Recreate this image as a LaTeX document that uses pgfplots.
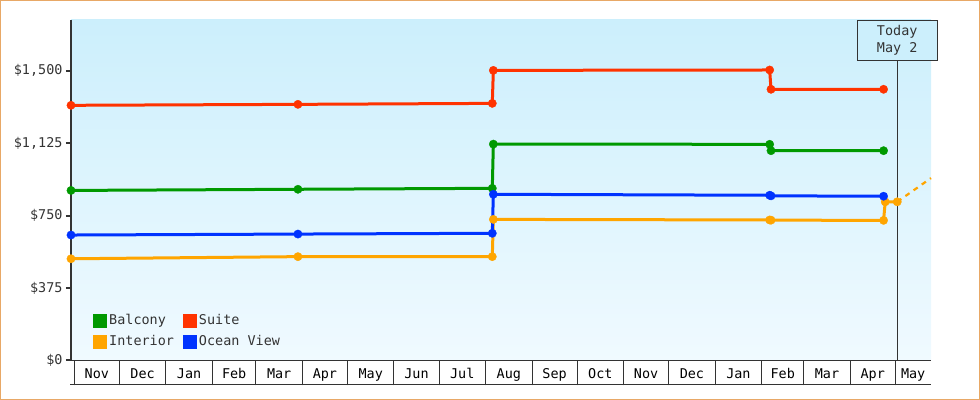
\documentclass[border=0pt]{standalone}
\usepackage{pgfplots}
\pgfplotsset{compat=1.18}
\usepackage{fontspec}
\setmainfont{DejaVu Sans Mono}

\definecolor{suite}{HTML}{FF3300}
\definecolor{balcony}{HTML}{009900}
\definecolor{ocean}{HTML}{0033FF}
\definecolor{interior}{HTML}{FFA500}
\definecolor{axisgray}{HTML}{333333}
\definecolor{bgtop}{HTML}{CCEFFC}
\definecolor{bgbot}{HTML}{F0FAFF}
\definecolor{framecol}{HTML}{E8A866}

% x = days since Nov 1 (first year), y = price in dollars
\begin{document}
\begin{tikzpicture}
\path[use as bounding box] (0,0) rectangle (980bp,400bp);
\draw[framecol, line width=1bp] (0.5bp,0.5bp) rectangle (979.5bp,399.5bp);
\begin{axis}[
  at={(71bp,39.7bp)}, anchor=south west,
  scale only axis, width=860bp, height=340.3bp,
  xmin=-2.2, xmax=570.8, ymin=0, ymax=1763,
  clip=false,
  axis x line*=bottom, axis y line*=left,
  x axis line style={axisgray, line width=1.5bp},
  y axis line style={axisgray, line width=2bp},
  axis background/.style={top color=bgtop, bottom color=bgbot},
  font=\fontsize{13.5}{15}\selectfont,
  tick align=outside,
  major tick length=5bp,
  minor tick length=25bp,
  ytick={0,375,750,1125,1500},
  yticklabels={\$0,\$375,\$750,{\$1,125},{\$1,500}},
  ytick style={axisgray, line width=2bp},
  yticklabel style={text=axisgray},
  xtick={15,45.5,76.5,106.5,136.5,167,197.5,228,258.5,289.5,320,350.5,381,411.5,442.5,472,501.5,532,558.9},
  xticklabels={Nov,Dec,Jan,Feb,Mar,Apr,May,Jun,Jul,Aug,Sep,Oct,Nov,Dec,Jan,Feb,Mar,Apr,May},
  minor xtick={0,30,61,92,121,152,182,213,243,274,305,335,366,396,427,458,486,517,547},
  xtick style={axisgray, line width=1bp},
  every major x tick/.append style={draw=none},
  xticklabel style={anchor=base, yshift=-13bp, text=black},
  legend columns=2,
  legend cell align=left,
  legend image code/.code={\fill[#1] (0bp,-5.5bp) rectangle (11bp,5.5bp);},
  legend style={at={(0.0256,0.137)}, anchor=north west, draw=none, fill=none,
    inner sep=0pt, text=axisgray, row sep=7bp,
    nodes={inner xsep=2bp, inner ysep=0bp, text height=10bp, text depth=3bp},
    /tikz/every even column/.append style={column sep=7bp}},
  every axis plot/.append style={line width=3bp, mark=*, mark size=4.2bp, mark options={line width=0.3bp}},
]
\addplot[balcony]
  coordinates {(-2.2,880) (149,886) (278.5,891) (279.2,1120) (463.3,1119) (464.2,1086) (539.2,1086)};
\addlegendentry{Balcony}
\addplot[suite]
  coordinates {(-2.2,1321) (149,1326) (278.5,1331) (279.2,1502) (463.3,1504) (464.2,1404) (539.2,1404)};
\addlegendentry{Suite}
\addplot[interior]
  coordinates {(-2.2,526) (149,537) (278.5,537) (279.2,730) (463.3,727) (464.2,726) (539.2,725) (540.3,821) (548.3,821)};
\addlegendentry{Interior}
\addplot[ocean]
  coordinates {(-2.2,649) (149,654) (278.5,658) (279.2,860) (463.3,855) (464.2,852) (539.2,850)};
\addlegendentry{Ocean View}
\addplot[interior, line width=2.2bp, no marks, dash pattern=on 5bp off 5bp, forget plot]
  coordinates {(548.3,821) (570.8,944)};
\draw[axisgray, line width=1bp] (axis cs:548.3,0) -- (axis cs:548.3,1554);
\node[draw=axisgray, fill=bgtop, line width=1bp, minimum width=80bp, minimum height=40bp,
  inner sep=0pt, align=center, anchor=north, text=axisgray,
  font=\fontsize{13.5}{17}\selectfont] at (axis cs:548.3,1763) {Today\\May 2};
\end{axis}
\draw[axisgray, line width=1bp] (70bp,15bp) -- (931bp,15bp);
\end{tikzpicture}
\end{document}
